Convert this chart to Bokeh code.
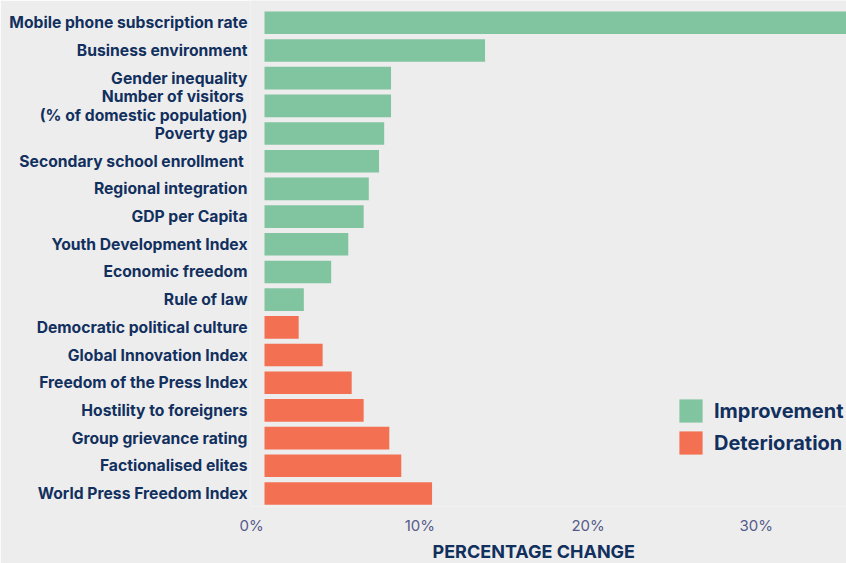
from bokeh.plotting import figure
from bokeh.models import (Range1d, LinearAxis, FixedTicker, Title, ColumnDataSource,
                          Legend, LegendItem, CDSView, GroupFilter)
from bokeh.embed import file_html
from bokeh.resources import INLINE

categories = [
    "Mobile phone subscription rate",
    "Business environment",
    "Gender inequality",
    "Number of visitors \n(% of domestic population)",
    "Poverty gap",
    "Secondary school enrollment ",
    "Regional integration",
    "GDP per Capita",
    "Youth Development Index",
    "Economic freedom",
    "Rule of law",
    "Democratic political culture",
    "Global Innovation Index",
    "Freedom of the Press Index",
    "Hostility to foreigners",
    "Group grievance rating",
    "Factionalised elites",
    "World Press Freedom Index",
]
change = [36.0, 12.9, 7.4, 7.4, 7.0, 6.7, 6.1, 5.8, 4.9, 3.9, 2.3,
          2.0, 3.4, 5.1, 5.8, 7.3, 8.0, 9.8]
direction = ["Improvement"] * 11 + ["Deterioration"] * 7
tick_values = [0, 10, 20, 30]
tick_labels = ["0%", "10%", "20%", "30%"]
legend_labels = ["Improvement", "Deterioration"]

BG = "#ededed"
NAVY = "#12305e"
GREEN = "#81c4a0"
ORANGE = "#f37152"

src = ColumnDataSource(dict(y=list(range(len(categories))), change=change,
                            direction=direction, name=categories))

p = figure(width=846, height=563, output_backend="svg", toolbar_location=None,
           x_range=Range1d(-0.819, 34.04), y_range=Range1d(17.47, -0.804),
           x_axis_location=None, y_axis_location="left",
           min_border_left=250, min_border_right=0, min_border_top=0,
           min_border_bottom=55,
           background_fill_color=BG, border_fill_color=BG, outline_line_color=None)
p.xgrid.visible = False
p.ygrid.visible = False

r_imp = p.hbar(y="y", left=0, right="change", height=0.817, source=src,
               view=CDSView(filter=GroupFilter(column_name="direction", group=legend_labels[0])),
               fill_color=GREEN, line_color=None)
r_det = p.hbar(y="y", left=0, right="change", height=0.817, source=src,
               view=CDSView(filter=GroupFilter(column_name="direction", group=legend_labels[1])),
               fill_color=ORANGE, line_color=None)

ya = p.yaxis[0]
ya.ticker = FixedTicker(ticks=list(range(len(categories))))
ya.major_label_overrides = {i: c for i, c in enumerate(categories)}
ya.axis_line_color = None
ya.major_tick_line_color = None
ya.major_tick_out = 0
ya.major_tick_in = 0
ya.minor_tick_line_color = None
ya.major_label_standoff = 3
ya.major_label_text_font = "Inter"
ya.major_label_text_font_style = "bold"
ya.major_label_text_font_size = "15.7px"
ya.major_label_text_line_height = 1.0
ya.major_label_text_color = NAVY

p.extra_x_ranges = {"lab": Range1d(-0.071, 35.36)}
xa = LinearAxis(x_range_name="lab", ticker=FixedTicker(ticks=tick_values),
                major_label_overrides={v: l for v, l in zip(tick_values, tick_labels)},
                axis_line_color=None, major_tick_line_color=None,
                major_tick_out=0, major_tick_in=0,
                minor_tick_line_color=None, major_label_standoff=9,
                major_label_text_font="Inter", major_label_text_font_size="15px",
                major_label_text_color="#565a8a")
p.add_layout(xa, "below")

t = Title(text="PERCENTAGE CHANGE", align="left", offset=182, standoff=3,
          text_font="Inter", text_font_size="18px", text_font_style="bold",
          text_color=NAVY)
p.add_layout(t, "below")

legend = Legend(items=[LegendItem(label=legend_labels[0], renderers=[r_imp]),
                       LegendItem(label=legend_labels[1], renderers=[r_det])],
                location=(426, 49), glyph_width=29, glyph_height=29,
                label_standoff=9, spacing=3, padding=0, margin=0,
                border_line_color=None, background_fill_alpha=0,
                label_text_font="Inter", label_text_font_style="bold",
                label_text_font_size="20px", label_text_color=NAVY)
p.add_layout(legend)

html = file_html(p, INLINE, title="Percentage change")
html = html.replace("<body>", '<body style="background-color:#ededed">', 1)
open("out.html", "w").write(html)
